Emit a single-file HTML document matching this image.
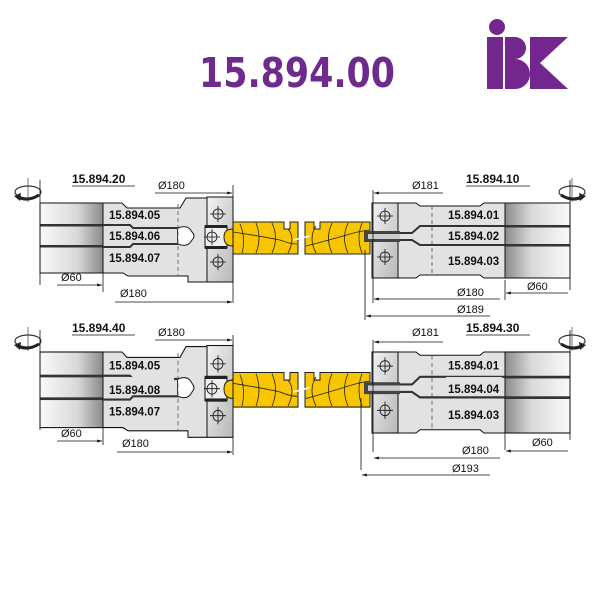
<!DOCTYPE html>
<html><head><meta charset="utf-8"><style>
html,body{margin:0;padding:0;background:#fff}
svg{display:block}
text{font-family:"Liberation Sans",Arial,sans-serif}
.lb{font-size:11.5px;font-weight:bold;fill:#111}
.dm{font-size:11px;fill:#111}
.ln{stroke:#111;stroke-width:0.8;fill:none}
.ol{stroke:#111;stroke-width:1;}
</style></head><body>
<svg width="600" height="600" viewBox="0 0 600 600" xmlns="http://www.w3.org/2000/svg">
<defs>
<linearGradient id="gl" x1="0" x2="1" y1="0" y2="0"><stop offset="0" stop-color="#fafafa"/><stop offset="0.6" stop-color="#d8d8d8"/><stop offset="1" stop-color="#8a8a8a"/></linearGradient>
<linearGradient id="gr" x1="0" x2="1" y1="0" y2="0"><stop offset="0" stop-color="#8a8a8a"/><stop offset="0.4" stop-color="#d8d8d8"/><stop offset="1" stop-color="#fafafa"/></linearGradient>
<linearGradient id="gc" x1="0" x2="1" y1="0" y2="1"><stop offset="0" stop-color="#f2f2f2"/><stop offset="1" stop-color="#b8b8b8"/></linearGradient>
<marker id="ar" viewBox="0 0 10 10" refX="10" refY="5" markerWidth="6" markerHeight="6" orient="auto-start-reverse"><path d="M0,2 L10,5 L0,8 z" fill="#111"/></marker>
<g id="cross"><circle r="5" fill="none" stroke="#111" stroke-width="0.8"/><path d="M-8,0H8M0,-8V8" stroke="#111" stroke-width="0.8"/></g>
<g id="rotL"><ellipse cx="0" cy="0" rx="13" ry="6" fill="none" stroke="#333" stroke-width="1.2"/><path d="M0,-14V10" stroke="#555" stroke-width="0.8"/><path d="M11,3 Q0,10 -10,5" stroke="#222" stroke-width="3" fill="none"/><path d="M-14,4 L-7,1 L-8,9 z" fill="#222"/></g>
<g id="wood">
 <path d="M0,0H52V-0 M0,0" fill="none"/>
</g>
</defs>

<!-- Title -->
<text x="199" y="87" font-size="41" font-weight="bold" fill="#6f2a8e" style="font-family:'DejaVu Sans','Liberation Sans',sans-serif" textLength="196" lengthAdjust="spacingAndGlyphs">15.894.00</text>
<!-- Logo -->
<g fill="#74268f">
<circle cx="497" cy="27" r="8"/>
<rect x="487" y="37" width="16" height="52"/>
<path d="M505,37 h10 a11,11 0 0 1 0,22 a12,12 0 0 1 0,30 h-10 z"/>
<path d="M530,37 h38 l-28,26 l28,26 h-38 z"/>
</g>

<g id="asm">
<!-- left shaft -->
<rect x="40" y="203" width="63" height="70" fill="url(#gl)" class="ol"/>
<rect x="40" y="224" width="63" height="2.5" fill="#333"/>
<rect x="40" y="245" width="63" height="2.5" fill="#333"/>
<!-- left body -->
<path d="M103,203 H122 L127,208 H180 L186,198 H207 V282 H188 V276 H128 L123,273 H103 Z" fill="#e2e2e2" class="ol"/>
<path d="M103,225 H130 L133,228 H178 V244 H133 L130,247 H103" fill="none" stroke="#333" stroke-width="2"/>
<path d="M178,228 Q188,224 192,232 Q196,236 192,240 Q188,248 178,244" fill="#fff" stroke="#222" stroke-width="1"/>
<path d="M178,204 V276" stroke="#555" stroke-width="0.8" stroke-dasharray="4,3"/>
<!-- left collar -->
<rect x="207" y="197" width="26" height="85" fill="url(#gc)" class="ol"/>
<rect x="205" y="226" width="22" height="22" fill="#eee" stroke="#111" stroke-width="1"/>
<rect x="205" y="225" width="22" height="3" fill="#222"/>
<rect x="205" y="246" width="22" height="3" fill="#222"/>
<use href="#cross" x="218" y="214"/>
<use href="#cross" x="218" y="262"/>
<use href="#cross" x="212" y="237"/>
<text class="lb" x="109" y="219">15.894.05</text>
<text class="lb" x="109" y="240">15.894.06</text>
<text class="lb" x="109" y="262">15.894.07</text>

<!-- workpiece -->
<path d="M233,222 H284 V229 H290 V222 H298 V254 H233 Z" fill="#f7c600" stroke="#222" stroke-width="1"/>
<path d="M233,229 Q224,229 224,237 Q224,246 233,246 Z" fill="#f7c600" stroke="#222" stroke-width="1"/>
<path d="M305,222 H314 V229 H320 V222 H370 V254 H305 Z" fill="#f7c600" stroke="#222" stroke-width="1"/>
<g fill="none" stroke="#222" stroke-width="0.8">
<path d="M240,224 Q246,238 242,253"/><path d="M256,223 Q262,238 256,253"/><path d="M272,223 Q279,238 272,253"/><path d="M288,229 Q296,238 288,253"/>
<path d="M233,232 Q260,236 280,240 Q290,244 297,244"/>
<path d="M316,226 Q308,238 316,253"/><path d="M332,223 Q325,238 332,253"/><path d="M348,223 Q341,238 348,253"/><path d="M362,223 Q356,238 362,253"/>
<path d="M306,246 Q330,240 350,234 Q360,231 370,230"/>
</g>
<path d="M293,240 L310,236" stroke="#fff" stroke-width="1.5"/>

<!-- right collar/body/shaft -->
<rect x="372" y="203" width="26" height="75" fill="url(#gc)" class="ol"/>
<use href="#cross" x="385" y="216"/>
<use href="#cross" x="385" y="257"/>
<path d="M398,203 H416 L420,206 H480 L484,203 H505 V278 H484 L480,275 H420 L416,278 H398 Z" fill="#e2e2e2" class="ol"/>
<path d="M432,206 V275" stroke="#555" stroke-width="0.8" stroke-dasharray="4,3"/>
<path d="M505,226 H420 L412,233 H400" fill="none" stroke="#333" stroke-width="2"/>
<path d="M505,245 H420 L412,240 H400" fill="none" stroke="#333" stroke-width="2"/>
<rect x="364" y="231" width="36" height="11" fill="#444"/>
<rect x="368" y="234" width="32" height="5" fill="#ccc"/>
<rect x="505" y="203" width="65" height="75" fill="url(#gr)" class="ol"/>
<rect x="505" y="225" width="65" height="2.5" fill="#333"/>
<rect x="505" y="244" width="65" height="2.5" fill="#333"/>
<text class="lb" x="448" y="219">15.894.01</text>
<text class="lb" x="448" y="240">15.894.02</text>
<text class="lb" x="448" y="265">15.894.03</text>
</g>

<!-- top dims -->
<use href="#rotL" x="28" y="192"/>
<g transform="translate(572,192) scale(-1,1)"><use href="#rotL"/></g>
<path d="M40,180V285 M570,180V290 M233,185V303 M103,270V292 M373,190V303 M505,280V300 M365,250V320" class="ln"/>
<text class="lb" x="72" y="183" style="font-size:12px">15.894.20</text><path d="M72,186H135" class="ln"/>
<text class="lb" x="466" y="183" style="font-size:12px">15.894.10</text><path d="M466,186H530" class="ln"/>
<text class="dm" x="158" y="189">Ø180</text><path d="M155,193H232" class="ln" marker-end="url(#ar)"/>
<text class="dm" x="412" y="189">Ø181</text><path d="M443,193H374" class="ln" marker-end="url(#ar)"/>
<text class="dm" x="61" y="281">Ø60</text><path d="M57,285H102" class="ln" marker-end="url(#ar)"/>
<text class="dm" x="120" y="297">Ø180</text><path d="M115,302H232" class="ln" marker-end="url(#ar)"/>
<text class="dm" x="457" y="296">Ø180</text><path d="M500,299H374" class="ln" marker-end="url(#ar)"/>
<text class="dm" x="527" y="290">Ø60</text><path d="M568,293H506" class="ln" marker-end="url(#ar)"/>
<text class="dm" x="457" y="313">Ø189</text><path d="M490,316H366" class="ln" marker-end="url(#ar)"/>

<!-- bottom assembly -->
<g transform="translate(0,149) translate(0,203) scale(1,1.08) translate(0,-203)">
<use href="#asm"/>
</g>
<!-- cover labels to change -->
<rect x="108" y="377" width="66" height="15" fill="#e2e2e2"/>
<text class="lb" x="109" y="394">15.894.08</text>
<rect x="446" y="377" width="56" height="18" fill="#e2e2e2"/>
<text class="lb" x="448" y="393">15.894.04</text>

<use href="#rotL" x="28" y="341"/>
<g transform="translate(572,341) scale(-1,1)"><use href="#rotL"/></g>
<path d="M40,330V430 M570,330V440 M233,335V455 M103,425V445 M373,340V452 M505,432V450 M361,398V470" class="ln"/>
<text class="lb" x="72" y="332" style="font-size:12px">15.894.40</text><path d="M72,335H135" class="ln"/>
<text class="lb" x="466" y="332" style="font-size:12px">15.894.30</text><path d="M466,335H530" class="ln"/>
<text class="dm" x="158" y="336">Ø180</text><path d="M155,340H232" class="ln" marker-end="url(#ar)"/>
<text class="dm" x="412" y="336">Ø181</text><path d="M443,342H374" class="ln" marker-end="url(#ar)"/>
<text class="dm" x="61" y="437">Ø60</text><path d="M57,441H102" class="ln" marker-end="url(#ar)"/>
<text class="dm" x="122" y="447">Ø180</text><path d="M117,452H232" class="ln" marker-end="url(#ar)"/>
<text class="dm" x="462" y="454">Ø180</text><path d="M500,458H374" class="ln" marker-end="url(#ar)"/>
<text class="dm" x="532" y="446">Ø60</text><path d="M568,451H506" class="ln" marker-end="url(#ar)"/>
<text class="dm" x="452" y="472">Ø193</text><path d="M490,475H362" class="ln" marker-end="url(#ar)"/>
</svg>
</body></html>
